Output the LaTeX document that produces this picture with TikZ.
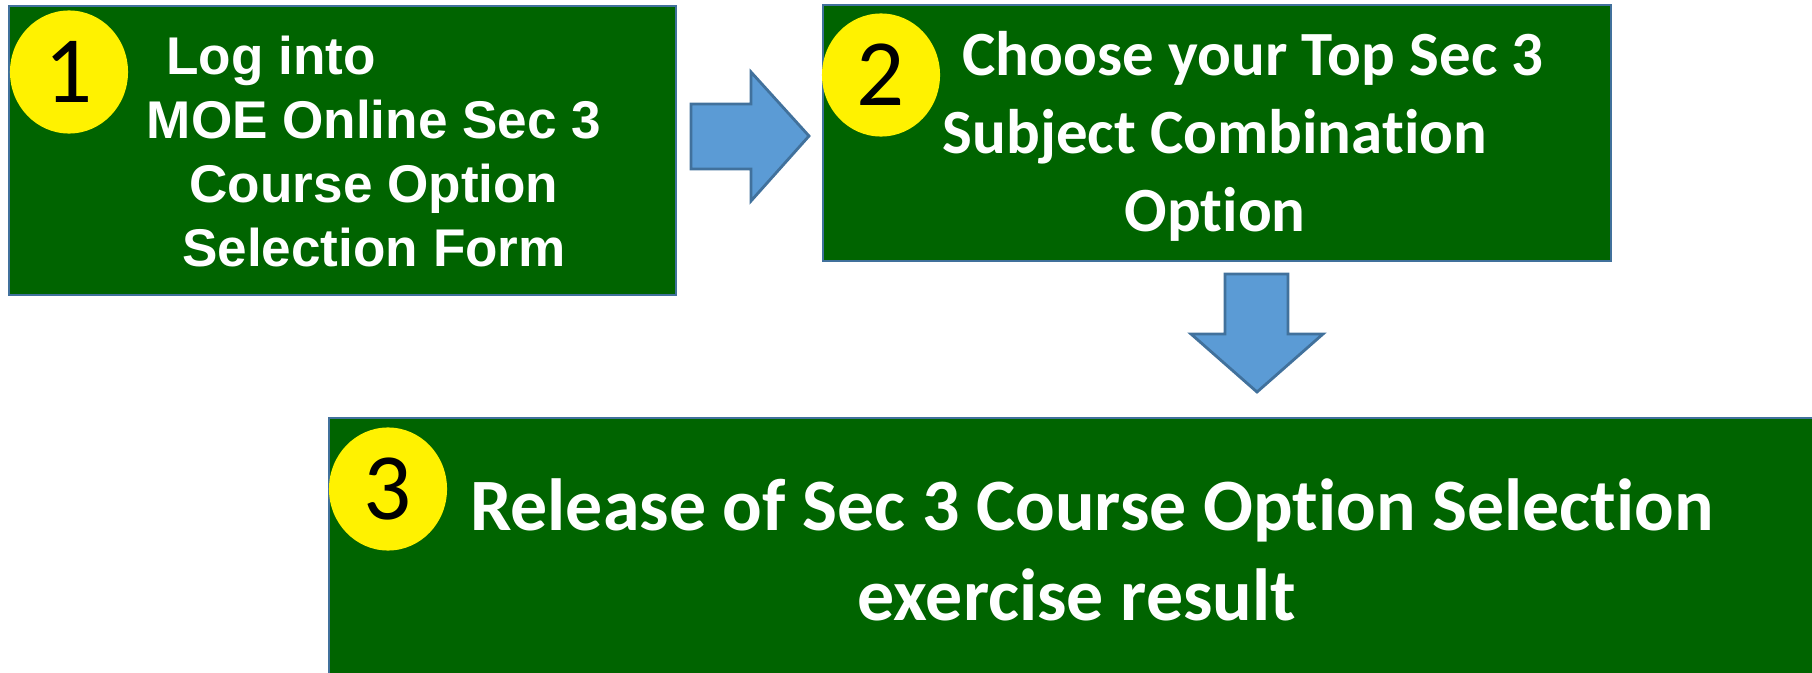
\documentclass[tikz,border=0pt]{standalone}
\usepackage{fontspec}
\usepackage{tikz}
\usetikzlibrary{shapes.geometric}
\newfontfamily\arialfont{Liberation Sans}
\newfontfamily\califont{Carlito}[Ligatures=NoCommon]
\definecolor{boxgreen}{RGB}{0,100,0}
\definecolor{boxedge}{RGB}{65,113,156}
\definecolor{arrowblue}{RGB}{91,155,213}
\tikzset{
	every stepbox/.style={
		rectangle,
		draw=boxedge,
		fill=boxgreen,
		line width=0.6pt,
		inner sep=0pt
	},
	numcircle/.style={
		ellipse,
		fill=yellow,
		minimum width=1.18cm,
		minimum height=1.23cm,
		inner sep=0pt,
		font=\califont\fontsize{27}{27}\selectfont
	},
	blockarrow/.style={
		draw=boxedge,
		fill=arrowblue,
		line width=0.8pt,
		line join=miter
	},
}

\begin{document}
\begin{tikzpicture}[x=0.01cm, y=-0.01cm]

\useasboundingbox (0,0) rectangle (1812,673);
\clip (0,0) rectangle (1812,673);

% green boxes
\node [every stepbox/.try, minimum width=6.67cm, minimum height=2.89cm] (box-1) at (342.5,150.5) {};
\node [every stepbox/.try, minimum width=7.88cm, minimum height=2.56cm] (box-2) at (1217,133) {};
\node [every stepbox/.try, minimum width=15.01cm, minimum height=2.72cm] (box-3) at (1079.5,554) {};

% texts
\node [align=center, text=white, font=\arialfont\bfseries\fontsize{15.1}{18.2}\selectfont] (text-1) at (374,152)
	{Log into\hspace*{2.06cm}\\MOE Online Sec 3\\Course Option\\Selection Form};
\node [align=center, text=white, font=\califont\bfseries\fontsize{17.9}{22.2}\selectfont] (text-2) at (1215,136)
	{\hspace*{0.76cm}Choose your Top Sec 3\\Subject Combination\\Option};
\node [align=center, text=white, font=\califont\bfseries\fontsize{21}{25.6}\selectfont] (text-3) at (1077,550)
	{\hspace*{0.3cm}Release of Sec 3 Course Option Selection\\exercise result};

% number circles
\foreach \n/\px/\py in {1/69/72, 2/881/75, 3/388/489}
	\node [numcircle] (num-\n) at (\px,\py) {\n};

% block arrows
\draw [blockarrow] (691,104) -- (751,104) -- (751,72) -- (809,136)
	-- (751,201) -- (751,169) -- (691,169) -- cycle;
\draw [blockarrow] (1225,274) -- (1288,274) -- (1288,334) -- (1323,334)
	-- (1257,392) -- (1191,334) -- (1225,334) -- cycle;

\end{tikzpicture}
\end{document}
